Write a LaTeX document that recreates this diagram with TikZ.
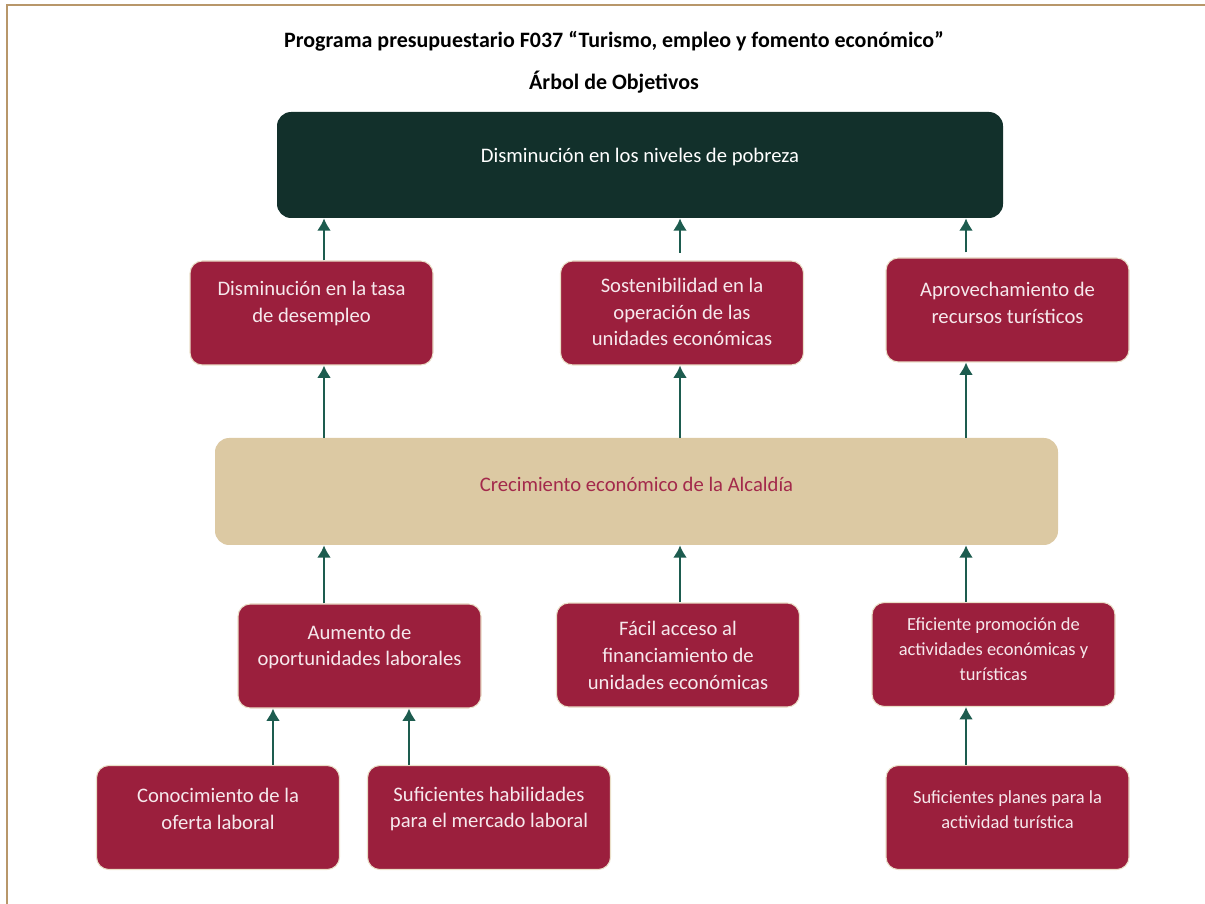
\documentclass[tikz,border=0pt]{standalone}
\usepackage{fontspec}
\setmainfont{Carlito}
\usetikzlibrary{arrows.meta,positioning}
\definecolor{darkgreen}{HTML}{12302B}
\definecolor{wine}{HTML}{9B1F3D}
\definecolor{sand}{HTML}{DCC9A3}
\definecolor{arrowgreen}{HTML}{1D5C4F}
\definecolor{framecol}{HTML}{B8976A}
\definecolor{pinkwhite}{HTML}{F6E8EC}
\definecolor{winetext}{HTML}{A3294B}
\tikzset{
    -{Latex[length=7pt,width=8pt]},auto,semithick,
    topbox/.style ={rectangle, rounded corners=8pt, fill=darkgreen, minimum width=14.52cm, minimum height=2.12cm},
    redbox/.style ={rectangle, rounded corners=7pt, fill=wine, draw=sand!60, line width=0.6pt, minimum width=4.86cm, minimum height=2.08cm},
    midbox/.style ={rectangle, rounded corners=8pt, fill=sand, minimum width=16.86cm, minimum height=2.14cm},
    title/.style = {font=\fontsize{12.5}{15}\selectfont\bfseries},
    txt/.style = {align=center, font=\fontsize{11.75}{15.3}\selectfont, text=pinkwhite},
    small/.style = {align=center, font=\fontsize{10.5}{14.2}\selectfont, text=pinkwhite},
    link/.style = {draw=arrowgreen, line width=1.6pt}
}
\begin{document}
\begin{tikzpicture}
	\useasboundingbox (0,0) rectangle (24.1,-18.08);
	\draw[-,framecol,line width=1.2pt] (24.1,-0.1) -- (0.14,-0.1) -- (0.14,-18.08);

	% titulo
	\node[title] (0) at (12.28,-0.82) {Programa presupuestario F037 “Turismo, empleo y fomento económico”};
	\node[title] (00) at (12.28,-1.64) {Árbol de Objetivos};

	% cajas
	\node[topbox] (1) at (12.8,-3.3) {};
	\node[redbox] (2) at (6.23,-6.26) {};
	\node[redbox] (3) at (13.64,-6.26) {};
	\node[redbox] (4) at (20.15,-6.2) {};
	\node[midbox] (5) at (12.73,-9.83) {};
	\node[redbox] (6) at (7.19,-13.12) {};
	\node[redbox] (7) at (13.56,-13.1) {};
	\node[redbox] (8) at (19.87,-13.09) {};
	\node[redbox] (9) at (4.36,-16.35) {};
	\node[redbox] (10) at (9.78,-16.35) {};
	\node[redbox] (11) at (20.15,-16.35) {};

	% textos
	\node[txt, text=white] (t1) at (12.8,-3.14) {Disminución en los niveles de pobreza};
	\node[txt] (t2) at (6.23,-6.07) {Disminución en la tasa\\de desempleo};
	\node[txt] (t3) at (13.64,-6.24) {Sostenibilidad en la\\operación de las\\unidades económicas};
	\node[txt] (t4) at (20.15,-6.05) {Aprovechamiento de\\recursos turísticos};
	\node[txt, text=winetext] (t5) at (12.73,-9.68) {Crecimiento económico de la Alcaldía};
	\node[txt] (t6) at (7.19,-12.94) {Aumento de\\oportunidades laborales};
	\node[txt] (t7) at (13.56,-13.11) {Fácil acceso al\\financiamiento de\\unidades económicas};
	\node[small] (t8) at (19.87,-12.99) {Eficiente promoción de\\actividades económicas y\\turísticas};
	\node[txt] (t9) at (4.36,-16.18) {Conocimiento de la\\oferta laboral};
	\node[txt] (t10) at (9.78,-16.18) {Suficientes habilidades\\para el mercado laboral};
	\node[small] (t11) at (20.15,-16.19) {Suficientes planes para la\\actividad turística};

	% columnas de flechas
	\coordinate (12) at (6.48,0);
	\coordinate (13) at (13.6,0);
	\coordinate (14) at (19.32,0);
	\coordinate (15) at (5.46,0);
	\coordinate (16) at (8.18,0);

	\path (2.north -| 12) edge[link] (1.south -| 12);
	\path (3.north -| 13) edge[link, shorten <=0.15cm] (1.south -| 13);
	\path (4.north -| 14) edge[link, shorten <=0.1cm] (1.south -| 14);
	\path (5.north -| 12) edge[link] (2.south -| 12);
	\path (5.north -| 13) edge[link] (3.south -| 13);
	\path (5.north -| 14) edge[link] (4.south -| 14);
	\path (6.north -| 12) edge[link] (5.south -| 12);
	\path (7.north -| 13) edge[link] (5.south -| 13);
	\path (8.north -| 14) edge[link] (5.south -| 14);
	\path (9.north -| 15) edge[link] (6.south -| 15);
	\path (10.north -| 16) edge[link] (6.south -| 16);
	\path (11.north -| 14) edge[link] (8.south -| 14);
\end{tikzpicture}
\end{document}
